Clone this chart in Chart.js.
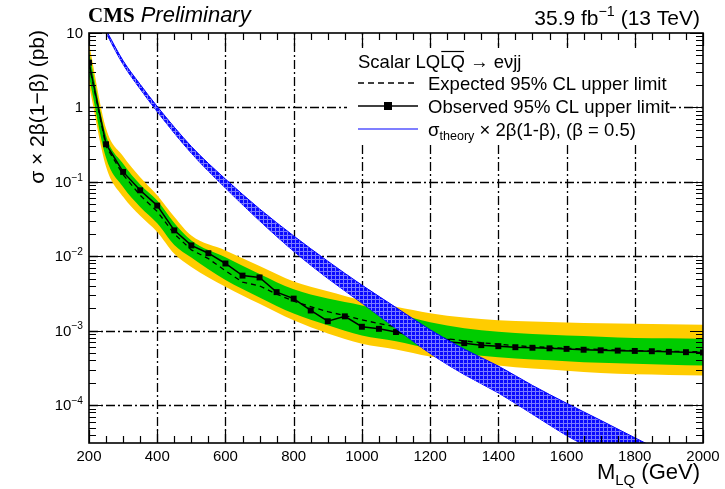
<!DOCTYPE html>
<html>
<head>
<meta charset="utf-8">
<script src="https://cdn.jsdelivr.net/npm/chart.js@4.4.1/dist/chart.umd.min.js"></script>
<style>
  html, body { margin: 0; padding: 0; background: #fff; }
</style>
</head>
<body>
<canvas id="lq" width="725" height="489"></canvas>
<script>
// limit points, every 50 GeV
const massPoints = [200, 250, 300, 350, 400, 450, 500, 550, 600, 650, 700, 750, 800, 850, 900, 950,
  1000, 1050, 1100, 1150, 1200, 1250, 1300, 1350, 1400, 1450, 1500, 1550, 1600, 1650, 1700, 1750,
  1800, 1850, 1900, 1950, 2000];
const observed = [4.0, 0.32, 0.136, 0.077, 0.048, 0.0223, 0.014, 0.011, 0.0080, 0.0055, 0.0052, 0.0033,
  0.0027, 0.00187, 0.00134, 0.00156, 0.00113, 0.00106, 0.00096, 0.00085, 0.00078, 0.00071, 0.00068,
  0.00064, 0.00062, 0.00060, 0.00059, 0.00058, 0.00057, 0.000555, 0.000545, 0.00054, 0.000535,
  0.00053, 0.00052, 0.000515, 0.00051];
const expected = [3.8, 0.30, 0.125, 0.066, 0.040, 0.020, 0.0122, 0.0093, 0.0064, 0.0045, 0.0040, 0.0031,
  0.0025, 0.0021, 0.0018, 0.0016, 0.0014, 0.00125, 0.00112, 0.00098, 0.00085, 0.00078, 0.00073,
  0.00069, 0.00066, 0.00063, 0.00061, 0.000595, 0.00058, 0.00057, 0.00056, 0.00055, 0.00054,
  0.000535, 0.00053, 0.000525, 0.00052];

// expected limit bands (+-1 and +-2 sigma)
const bandMass = [200, 250, 300, 350, 400, 450, 500, 600, 700, 800, 900, 1000, 1100, 1200, 1300, 1400,
  1500, 1600, 1700, 1800, 1900, 2000];
const exp2Up = [7.3, 0.52, 0.22, 0.115, 0.066, 0.034, 0.019, 0.0120, 0.0074, 0.0046, 0.0034, 0.00257,
  0.0021, 0.00172, 0.0015, 0.00138, 0.00133, 0.00129, 0.00126, 0.00124, 0.00122, 0.0012];
const exp1Up = [5.6, 0.42, 0.175, 0.092, 0.056, 0.028, 0.0163, 0.0097, 0.0058, 0.0036, 0.0027, 0.00219,
  0.0017, 0.0013, 0.00108, 0.00097, 0.0009, 0.00086, 0.00083, 0.0008, 0.00079, 0.00078];
const exp1Down = [2.6, 0.21, 0.085, 0.046, 0.0277, 0.0142, 0.0096, 0.0048, 0.0028, 0.0017, 0.00118,
  0.00086, 0.00072, 0.00057, 0.00049, 0.00044, 0.00041, 0.00039, 0.00037, 0.00036, 0.00035, 0.00034];
const exp2Down = [2.0, 0.16, 0.063, 0.035, 0.0212, 0.0108, 0.0072, 0.0039, 0.0023, 0.00138, 0.00092,
  0.00067, 0.00056, 0.00045, 0.00039, 0.00034, 0.00031, 0.00029, 0.00027, 0.00026, 0.000255, 0.00025];

// theory cross section x 2b(1-b), with its uncertainty
const theoryMass = [200, 250, 300, 350, 400, 500, 600, 700, 800, 900, 1000, 1100, 1200, 1300, 1400,
  1500, 1600, 1700, 1800, 1900, 2000];
const theoryUp = [29.3, 11.0, 4.24, 2.04, 1.03, 0.299, 0.109, 0.0433, 0.0188, 0.0086, 0.0041, 0.00205,
  0.00103, 0.000565, 0.000335, 0.000184, 0.000106, 0.0000625, 0.0000365, 0.0000214, 0.0000125];
const theoryDown = [26.7, 10.0, 3.78, 1.77, 0.876, 0.243, 0.0828, 0.03, 0.0117, 0.00505, 0.00235,
  0.00107, 0.000495, 0.000258, 0.000146, 0.0000757, 0.0000391, 0.000022, 0.0000121, 0.0000068,
  0.0000038];

// axis ticks
const xTicks = [200, 400, 600, 800, 1000, 1200, 1400, 1600, 1800, 2000];
const xTickLabels = ['200', '400', '600', '800', '1000', '1200', '1400', '1600', '1800', '2000'];
const yTicks = [10, 1, 0.1, 0.01, 0.001, 0.0001];
const yTickLabels = [['10', ''], ['1', ''], ['10', '\u22121'], ['10', '\u22122'], ['10', '\u22123'], ['10', '\u22124']];

const pts = (xs, ys) => xs.map((m, i) => ({ x: m, y: ys[i] }));

function hatchPattern() {
  const c = document.createElement('canvas');
  c.width = 4; c.height = 4;
  const g = c.getContext('2d');
  g.fillStyle = '#0a0aff';
  g.fillRect(0, 0, 4, 4);
  g.fillStyle = '#7a7aff';
  g.fillRect(3, 0, 1, 4);
  g.fillRect(0, 3, 4, 1);
  return g.createPattern(c, 'repeat');
}

const SANS = '"Liberation Sans", Arial, sans-serif';

// text with a raised or lowered small part, returns end x
function richText(ctx, x, y, parts, size, style) {
  const pre = style ? style + ' ' : '';
  parts.forEach(p => {
    const fs = p.small ? size * 0.68 : size;
    ctx.font = pre + fs + 'px ' + SANS;
    const dy = p.sup ? -size * 0.42 : (p.sub ? size * 0.25 : 0);
    ctx.fillText(p.t, x, y + dy);
    x += ctx.measureText(p.t).width;
  });
  return x;
}
function richWidth(ctx, parts, size) {
  let w = 0;
  parts.forEach(p => {
    ctx.font = (p.small ? size * 0.68 : size) + 'px ' + SANS;
    w += ctx.measureText(p.t).width;
  });
  return w;
}

const rootFrame = {
  id: 'rootFrame',
  beforeDatasetsDraw(chart) {
    const { ctx, chartArea: a, scales: { x, y } } = chart;
    ctx.save();
    ctx.strokeStyle = '#000';
    ctx.lineWidth = 1.3;
    ctx.setLineDash([9, 3, 2, 3]);
    xTicks.slice(1, -1).forEach(v => {
      const px = Math.round(x.getPixelForValue(v)) + 0.5;
      ctx.beginPath(); ctx.moveTo(px, a.bottom); ctx.lineTo(px, a.top); ctx.stroke();
    });
    yTicks.slice(1).forEach(v => {
      const py = Math.round(y.getPixelForValue(v)) + 0.5;
      ctx.beginPath(); ctx.moveTo(a.left, py); ctx.lineTo(a.right, py); ctx.stroke();
    });
    ctx.setLineDash([]);
    // legend background hides the grid
    ctx.fillStyle = '#fff';
    ctx.fillRect(347, 48, 323, 96);
    ctx.restore();
  },
  afterDatasetsDraw(chart) {
    const { ctx, chartArea: a, scales: { x, y } } = chart;
    ctx.save();
    ctx.strokeStyle = '#000';
    ctx.fillStyle = '#000';
    ctx.lineWidth = 1.2;
    // x ticks, bottom and top, pointing inwards
    for (let v = 200; v <= 2000; v += 50) {
      const px = Math.round(x.getPixelForValue(v)) + 0.5;
      const len = v % 200 === 0 ? 13 : 7;
      ctx.beginPath();
      ctx.moveTo(px, a.bottom); ctx.lineTo(px, a.bottom - len);
      ctx.moveTo(px, a.top); ctx.lineTo(px, a.top + len);
      ctx.stroke();
    }
    // y ticks, left and right
    for (let d = 1e-5; d <= 10; d *= 10) {
      for (let k = 1; k <= 9; k++) {
        const v = k * d;
        if (v < y.min * 0.999 || v > y.max * 1.001) continue;
        const py = Math.round(y.getPixelForValue(v)) + 0.5;
        const len = k === 1 ? 13 : 7;
        ctx.beginPath();
        ctx.moveTo(a.left, py); ctx.lineTo(a.left + len, py);
        ctx.moveTo(a.right, py); ctx.lineTo(a.right - len, py);
        ctx.stroke();
      }
    }
    ctx.lineWidth = 1.6;
    ctx.strokeRect(a.left, a.top, a.right - a.left, a.bottom - a.top);

    // tick labels
    ctx.font = '15px ' + SANS;
    ctx.textAlign = 'center';
    ctx.textBaseline = 'alphabetic';
    xTicks.forEach((v, i) => ctx.fillText(xTickLabels[i], x.getPixelForValue(v), a.bottom + 18));
    ctx.textAlign = 'left';
    yTicks.forEach((v, i) => {
      const [base, exp] = yTickLabels[i];
      const parts = [{ t: base }];
      if (exp) parts.push({ t: exp, small: true, sup: true });
      const w = richWidth(ctx, parts, 15);
      richText(ctx, a.left - 6 - w, y.getPixelForValue(v) + 5, parts, 15);
    });

    // axis titles
    const xt = [{ t: 'M' }, { t: 'LQ', small: true, sub: true }, { t: ' (GeV)' }];
    const xw = richWidth(ctx, xt, 22);
    richText(ctx, 700 - xw, 479, xt, 22);
    ctx.save();
    ctx.translate(44, a.top - 3);
    ctx.rotate(-Math.PI / 2);
    ctx.font = '21px ' + SANS;
    ctx.textAlign = 'right';
    ctx.fillText('\u03c3 \u00d7 2\u03b2(1\u2212\u03b2) (pb)', 0, 0);
    ctx.restore();

    // header
    ctx.textAlign = 'left';
    ctx.font = 'bold 21px "Liberation Serif", serif';
    ctx.fillText('CMS', 88, 22);
    const cmsW = ctx.measureText('CMS').width;
    ctx.font = 'italic 22px ' + SANS;
    ctx.fillText('Preliminary', 88 + cmsW + 6, 22);
    const lumi = [{ t: '35.9 fb' }, { t: '\u22121', small: true, sup: true }, { t: ' (13 TeV)' }];
    const lw = richWidth(ctx, lumi, 21);
    richText(ctx, 700 - lw, 25, lumi, 21);

    // legend
    const lx = 358, tx = 428, fs = 18.5;
    ctx.font = fs + 'px ' + SANS;
    ctx.fillText('Scalar LQ', lx, 68);
    const w1 = ctx.measureText('Scalar LQ').width;
    const w2 = ctx.measureText('LQ').width;
    ctx.fillText('LQ \u2192 e\u03bdjj', lx + w1, 68);
    ctx.lineWidth = 1.2;
    ctx.beginPath(); ctx.moveTo(lx + w1 + 1, 51.5); ctx.lineTo(lx + w1 + w2 - 1, 51.5); ctx.stroke();

    ctx.lineWidth = 1.5;
    ctx.setLineDash([6, 4]);
    ctx.beginPath(); ctx.moveTo(lx, 83); ctx.lineTo(lx + 60, 83); ctx.stroke();
    ctx.setLineDash([]);
    ctx.fillText('Expected 95% CL upper limit', tx, 89.5);

    ctx.beginPath(); ctx.moveTo(lx, 106); ctx.lineTo(lx + 60, 106); ctx.stroke();
    ctx.fillRect(lx + 26, 102, 8, 8);
    ctx.fillText('Observed 95% CL upper limit', tx, 112.5);

    ctx.strokeStyle = '#0000ff';
    ctx.lineWidth = 1.2;
    ctx.beginPath(); ctx.moveTo(lx, 129); ctx.lineTo(lx + 60, 129); ctx.stroke();
    richText(ctx, tx, 135.5, [{ t: '\u03c3' }, { t: 'theory', small: true, sub: true },
      { t: ' \u00d7 2\u03b2(1-\u03b2), (\u03b2 = 0.5)' }], fs);
    ctx.restore();
  }
};

const smooth = { cubicInterpolationMode: 'monotone', pointRadius: 0 };

const ctx = document.getElementById('lq').getContext('2d');
new Chart(ctx, {
  type: 'line',
  data: {
    datasets: [
      { ...smooth, data: pts(theoryMass, theoryUp), fill: '+1', backgroundColor: hatchPattern(),
        borderColor: '#0000ff', borderWidth: 1, order: 0 },
      { ...smooth, data: pts(theoryMass, theoryDown), fill: false, borderColor: '#0000ff',
        borderWidth: 1, order: 0 },
      { data: pts(massPoints, observed), fill: false, borderColor: '#000', borderWidth: 1.5,
        pointStyle: 'rect', pointRadius: 4.2, pointBackgroundColor: '#000', pointBorderWidth: 0, order: 1 },
      { data: pts(massPoints, expected), fill: false, borderColor: '#000', borderWidth: 1.3,
        borderDash: [5, 4], pointRadius: 0, order: 2 },
      { ...smooth, data: pts(bandMass, exp1Up), fill: '+1', backgroundColor: '#00cc00', borderWidth: 0, order: 3 },
      { ...smooth, data: pts(bandMass, exp1Down), fill: false, borderWidth: 0, order: 3 },
      { ...smooth, data: pts(bandMass, exp2Up), fill: '+1', backgroundColor: '#ffcc00', borderWidth: 0, order: 4 },
      { ...smooth, data: pts(bandMass, exp2Down), fill: false, borderWidth: 0, order: 4 }
    ]
  },
  options: {
    responsive: false,
    animation: false,
    layout: { padding: { left: 89, right: 22, top: 33, bottom: 46 } },
    plugins: { legend: { display: false }, tooltip: { enabled: false } },
    scales: {
      x: { type: 'linear', min: 200, max: 2000, display: false },
      y: { type: 'logarithmic', min: 3.1e-5, max: 10, display: false }
    }
  },
  plugins: [rootFrame]
});
</script>
</body>
</html>
